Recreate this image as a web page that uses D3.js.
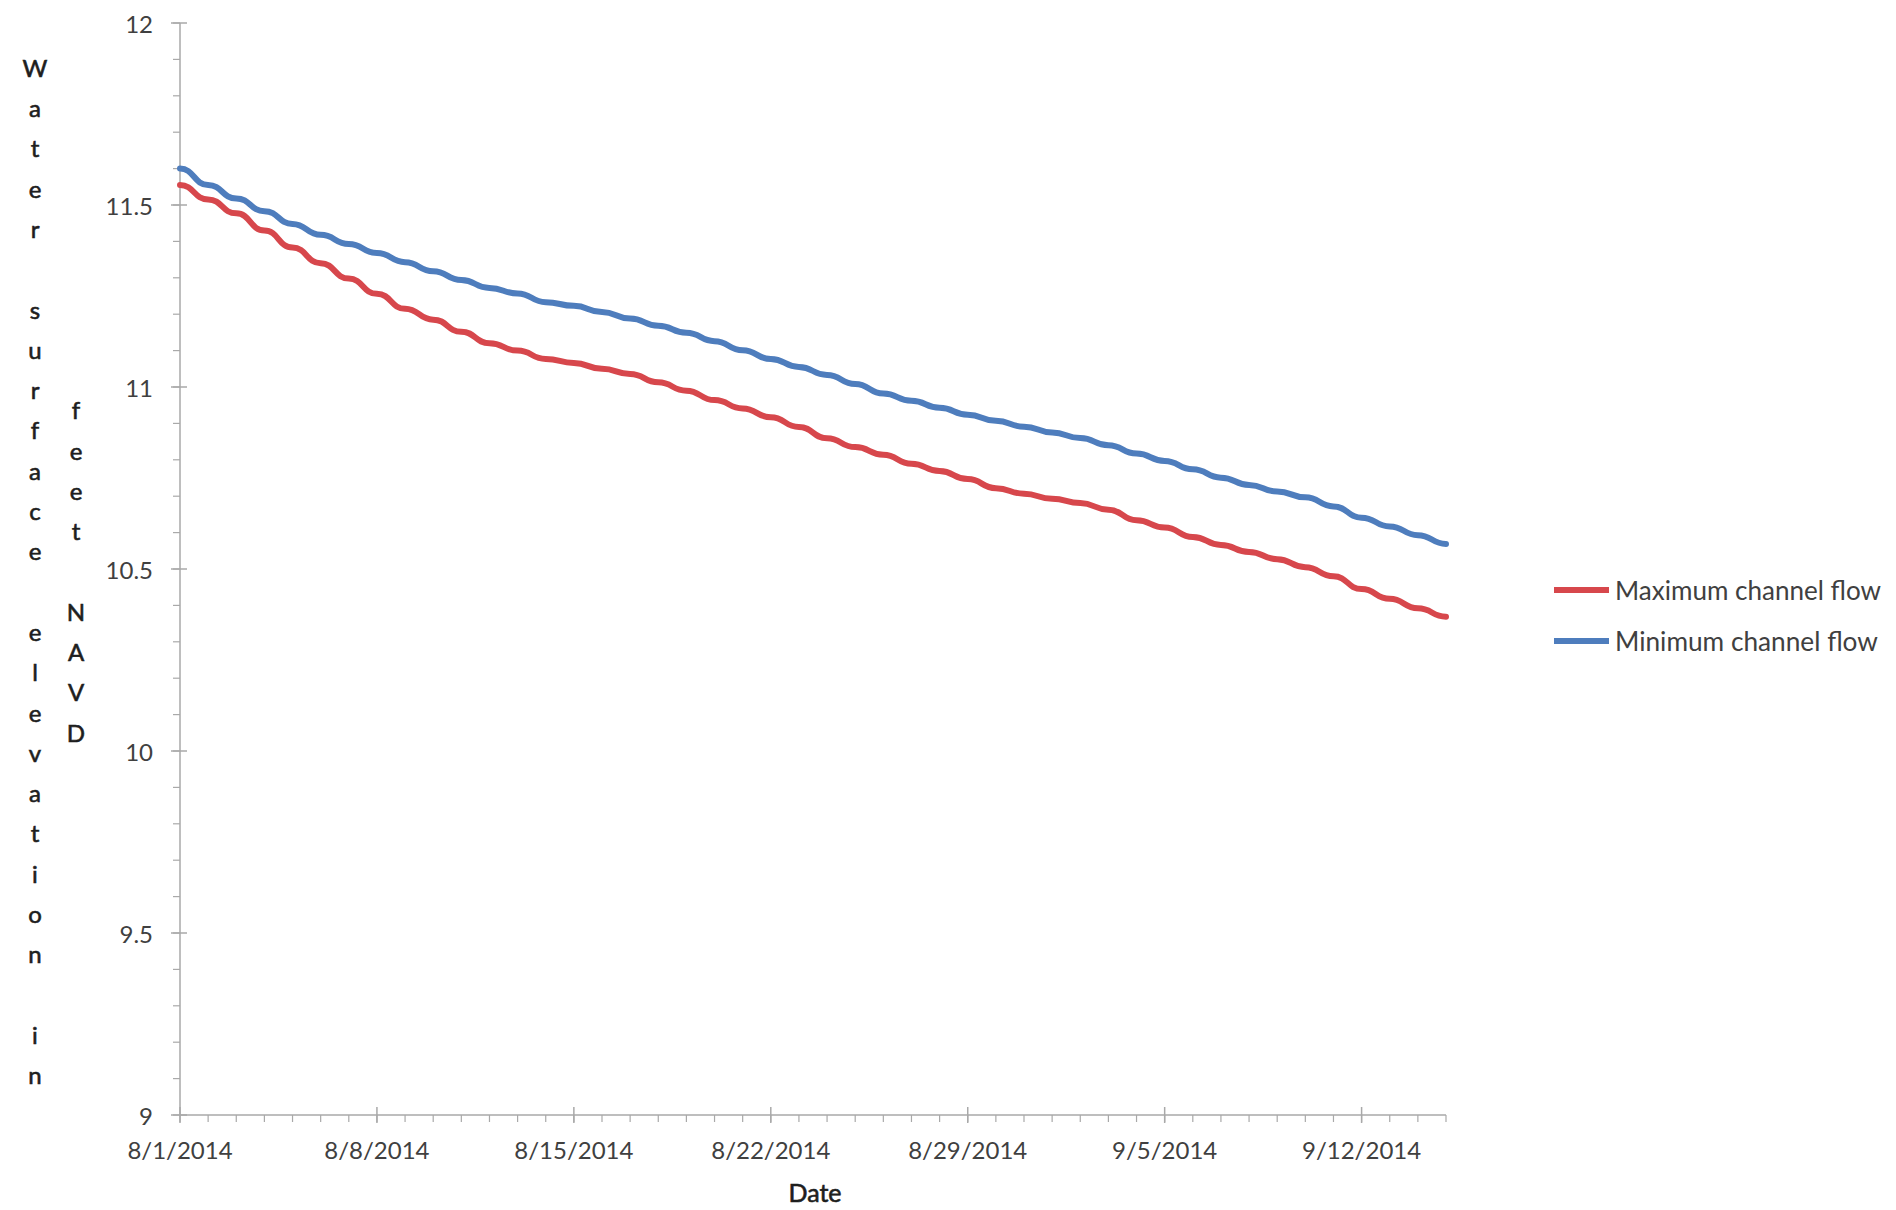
<!DOCTYPE html>
<html>
<head>
<meta charset="utf-8">
<script src="https://cdn.jsdelivr.net/npm/d3@7"></script>
<style>
  html, body { margin: 0; padding: 0; background: #ffffff; }
  svg { display: block; }
  text { font-family: Lato, "Open Sans", "DejaVu Sans", sans-serif; }
</style>
</head>
<body>
<svg id="chart" width="1896" height="1210"></svg>
<script>
// ---- Data ----
const dates = [
  "2014-08-01","2014-08-02","2014-08-03","2014-08-04","2014-08-05","2014-08-06","2014-08-07","2014-08-08",
  "2014-08-09","2014-08-10","2014-08-11","2014-08-12","2014-08-13","2014-08-14","2014-08-15","2014-08-16",
  "2014-08-17","2014-08-18","2014-08-19","2014-08-20","2014-08-21","2014-08-22","2014-08-23","2014-08-24",
  "2014-08-25","2014-08-26","2014-08-27","2014-08-28","2014-08-29","2014-08-30","2014-08-31","2014-09-01",
  "2014-09-02","2014-09-03","2014-09-04","2014-09-05","2014-09-06","2014-09-07","2014-09-08","2014-09-09",
  "2014-09-10","2014-09-11","2014-09-12","2014-09-13","2014-09-14","2014-09-15"
];
const maxChannelFlow = [
  11.555, 11.515, 11.477, 11.430, 11.383, 11.340, 11.298, 11.256, 11.215, 11.185,
  11.152, 11.120, 11.100, 11.077, 11.066, 11.050, 11.036, 11.013, 10.990, 10.964,
  10.941, 10.917, 10.890, 10.859, 10.835, 10.814, 10.789, 10.769, 10.747, 10.722,
  10.707, 10.693, 10.681, 10.663, 10.634, 10.614, 10.588, 10.566, 10.547, 10.527,
  10.505, 10.480, 10.445, 10.418, 10.392, 10.369
];
const minChannelFlow = [
  11.600, 11.555, 11.518, 11.483, 11.448, 11.418, 11.393, 11.368, 11.343, 11.318,
  11.294, 11.272, 11.257, 11.233, 11.223, 11.206, 11.188, 11.168, 11.149, 11.126,
  11.101, 11.077, 11.055, 11.033, 11.008, 10.982, 10.962, 10.943, 10.924, 10.907,
  10.891, 10.875, 10.860, 10.840, 10.817, 10.797, 10.774, 10.751, 10.731, 10.713,
  10.697, 10.672, 10.641, 10.617, 10.593, 10.569
];
const seriesNames = ["Maximum channel flow", "Minimum channel flow"];
const seriesColors = ["#d7474c", "#4e7dbd"];
const yTickValues = [9, 9.5, 10, 10.5, 11, 11.5, 12];
const xTickLabels = ["8/1/2014","8/8/2014","8/15/2014","8/22/2014","8/29/2014","9/5/2014","9/12/2014"];
const yTitleCol1 = "Water surface elevation in";
const yTitleCol2 = "feet NAVD";
const xTitle = "Date";

(function () {
// ---- Layout ----
const parse = d3.utcParse("%Y-%m-%d");
const dateObjs = dates.map(parse);
const pLeft = 180, pRight = 1446, pTop = 23, pBottom = 1115;

const svg = d3.select("#chart");
const x = d3.scaleUtc().domain([dateObjs[0], dateObjs[dateObjs.length - 1]]).range([pLeft, pRight]);
const y = d3.scaleLinear().domain([9, 12]).range([pBottom, pTop]);

const axisColor = "#a9a9a9";
const labelColor = "#404040";
const titleColor = "#1e1e1e";

// Y axis
const yMinor = d3.range(90, 121).map(v => v / 10);
const gy = svg.append("g").attr("transform", `translate(${pLeft},0)`);
gy.append("line").attr("x1", 0).attr("x2", 0).attr("y1", pTop).attr("y2", pBottom)
  .attr("stroke", axisColor).attr("stroke-width", 1.5);
gy.selectAll("line.minor").data(yMinor).enter().append("line")
  .attr("class", "minor")
  .attr("x1", -7).attr("x2", 0)
  .attr("y1", d => y(d)).attr("y2", d => y(d))
  .attr("stroke", axisColor).attr("stroke-width", 1.2);
gy.selectAll("line.major").data(yTickValues).enter().append("line")
  .attr("class", "major")
  .attr("x1", -9).attr("x2", 7)
  .attr("y1", d => y(d)).attr("y2", d => y(d))
  .attr("stroke", axisColor).attr("stroke-width", 1.5);
gy.selectAll("text").data(yTickValues).enter().append("text")
  .attr("x", -27).attr("y", d => y(d))
  .attr("text-anchor", "end").attr("dominant-baseline", "central")
  .attr("fill", labelColor).attr("font-size", 24)
  .text(d => d3.format("~g")(d));

// X axis
const xMinor = dateObjs;
const xMajor = dateObjs.filter((d, i) => i % 7 === 0);
const gx = svg.append("g").attr("transform", `translate(0,${pBottom})`);
gx.append("line").attr("x1", pLeft).attr("x2", pRight).attr("y1", 0).attr("y2", 0)
  .attr("stroke", axisColor).attr("stroke-width", 1.5);
gx.selectAll("line.minor").data(xMinor).enter().append("line")
  .attr("class", "minor")
  .attr("x1", d => x(d)).attr("x2", d => x(d))
  .attr("y1", 0).attr("y2", 7)
  .attr("stroke", axisColor).attr("stroke-width", 1.2);
gx.selectAll("line.major").data(xMajor).enter().append("line")
  .attr("class", "major")
  .attr("x1", d => x(d)).attr("x2", d => x(d))
  .attr("y1", -8).attr("y2", 8)
  .attr("stroke", axisColor).attr("stroke-width", 1.5);
gx.selectAll("text").data(xMajor).enter().append("text")
  .attr("x", d => x(d)).attr("y", 34)
  .attr("text-anchor", "middle").attr("dominant-baseline", "central")
  .attr("fill", labelColor).attr("font-size", 24)
  .text((d, i) => xTickLabels[i]);

// X title
svg.append("text")
  .attr("x", (pLeft + pRight) / 2 + 2).attr("y", 1192)
  .attr("text-anchor", "middle").attr("dominant-baseline", "central")
  .attr("fill", titleColor).attr("font-size", 25)
  .attr("stroke", titleColor).attr("stroke-width", 0.6)
  .text(xTitle);

// Y title: stacked letters in two columns, centred on the plot
const lineStep = 40.3;
const centerY = (pTop + pBottom) / 2 + 2;
function stacked(str, cx) {
  const chars = str.split("");
  const n = chars.length;
  svg.append("g").selectAll("text").data(chars).enter().append("text")
    .attr("x", cx)
    .attr("y", (d, i) => centerY + (i - (n - 1) / 2) * lineStep)
    .attr("text-anchor", "middle").attr("dominant-baseline", "central")
    .attr("fill", titleColor).attr("font-size", 24)
    .attr("stroke", titleColor).attr("stroke-width", 0.6)
    .text(d => d);
}
stacked(yTitleCol1, 35);
stacked(yTitleCol2, 76);

// Lines
const seriesData = [maxChannelFlow, minChannelFlow];
const line = d3.line()
  .x((d, i) => x(dateObjs[i]))
  .y(d => y(d))
  .curve(d3.curveBumpX);
svg.append("g").selectAll("path").data(seriesData).enter().append("path")
  .attr("d", d => line(d))
  .attr("fill", "none")
  .attr("stroke", (d, i) => seriesColors[i])
  .attr("stroke-width", 6)
  .attr("stroke-linejoin", "round")
  .attr("stroke-linecap", "round");

// Legend
const legend = svg.append("g");
const legendY = [590, 641];
seriesNames.forEach((name, i) => {
  legend.append("line")
    .attr("x1", 1554).attr("x2", 1609)
    .attr("y1", legendY[i]).attr("y2", legendY[i])
    .attr("stroke", seriesColors[i]).attr("stroke-width", 6);
  const t = legend.append("text")
    .attr("x", 1615).attr("y", legendY[i])
    .attr("dominant-baseline", "central")
    .attr("fill", labelColor).attr("font-size", 24)
    .text(name);
  const w = t.node().getComputedTextLength();
  const target = i === 0 ? 266 : 263;
  t.attr("font-size", 24 * target / w);
});
})();
</script>
</body>
</html>
